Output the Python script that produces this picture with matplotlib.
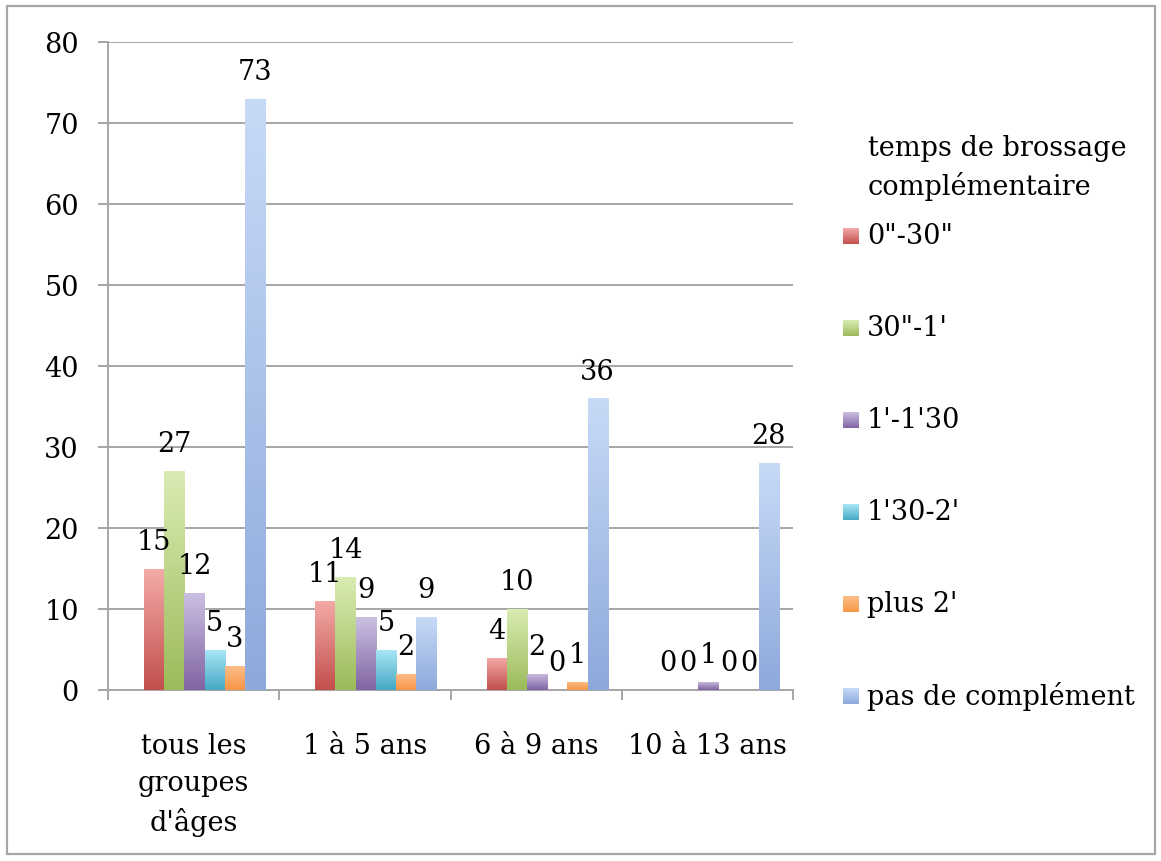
import numpy as np
import matplotlib
matplotlib.use("Agg")
import matplotlib.pyplot as plt
from matplotlib.colors import LinearSegmentedColormap, to_rgb
from matplotlib.patches import Rectangle

categories = ["tous les\ngroupes\nd'âges", "1 à 5 ans", "6 à 9 ans", "10 à 13 ans"]
series_names = ['0"-30"', '30"-1\'', "1'-1'30", "1'30-2'", "plus 2'", "pas de complément"]
v_0_30 = [15, 11, 4, 0]
v_30_1 = [27, 14, 10, 0]
v_1_130 = [12, 9, 2, 1]
v_130_2 = [5, 5, 0, 0]
v_plus2 = [3, 2, 1, 0]
v_pas = [73, 9, 36, 28]
series_values = [v_0_30, v_30_1, v_1_130, v_130_2, v_plus2, v_pas]
legend_title = "temps de brossage\ncomplémentaire"
yticks = [0, 10, 20, 30, 40, 50, 60, 70, 80]

# (bottom colour, top colour) for the gradient fill
grad_colors = [
    ("#C24F4C", "#F4ABA9"),
    ("#9BBB59", "#D9ECB4"),
    ("#8064A2", "#CCC0E3"),
    ("#45A9C4", "#AAE7F8"),
    ("#F79646", "#FCBF8C"),
    ("#8DA9DB", "#C7DAF7"),
]

plt.rcParams['font.family'] = ['DejaVu Serif']
FS = 19.5
W, H = 1161, 862
fig = plt.figure(figsize=(W / 100, H / 100), dpi=100)

# outer border
fig.patches.append(Rectangle((7 / W, 7 / H), (1155 - 7) / W, (855 - 7) / H,
                             transform=fig.transFigure, fill=False,
                             edgecolor="#A6A6A6", linewidth=1.6, zorder=0))

ax = fig.add_axes([108 / W, (H - 691) / H, (793 - 108) / W, (691 - 43) / H])
ax.set_facecolor("none")

n_cat = len(categories)
cat_px = (793 - 108) / n_cat
bw = 20.2 / cat_px
x = np.arange(n_cat)
grad = np.linspace(0, 1, 256).reshape(-1, 1)

for i, (vals, (cb, ct)) in enumerate(zip(series_values, grad_colors)):
    off = (-39.5 + 20.2 * i) / cat_px
    cmid = tuple((np.array(to_rgb(cb)) + np.array(to_rgb(ct))) / 2)
    bars = ax.bar(x + off, vals, width=bw, color=cmid, linewidth=0, zorder=2)
    cmap = LinearSegmentedColormap.from_list(f"g{i}", [cb, ct])
    for b, v in zip(bars, vals):
        if v <= 0:
            continue
        x0 = b.get_x()
        im = ax.imshow(grad, extent=(x0, x0 + bw, 0, v),
                       origin="lower", cmap=cmap, aspect="auto", zorder=3,
                       interpolation="bilinear")
        im.set_clip_path(b)
    ax.bar_label(bars, labels=[str(v) for v in vals], padding=10, fontsize=FS, zorder=4)

ax.set_xlim(-0.5, n_cat - 0.5)
ax.set_ylim(0, 80)
ax.set_yticks(yticks)
ax.set_yticklabels([str(t) for t in yticks], fontsize=FS)
ax.grid(axis="y", color="#A6A6A6", linewidth=1.4, zorder=0)
ax.set_axisbelow(True)
ax.tick_params(axis="y", length=7, width=1.4, color="#A6A6A6", pad=14, direction="out")

ax.set_xticks(x)
ax.set_xticklabels(categories, fontsize=FS, linespacing=1.48, va="top")
ax.set_xticks(np.arange(n_cat + 1) - 0.5, minor=True)
ax.tick_params(axis="x", which="major", length=0, pad=30)
ax.tick_params(axis="x", which="minor", length=7.5, width=1.4, color="#A6A6A6", direction="out")

for s in ["top", "right"]:
    ax.spines[s].set_visible(False)
for s in ["left", "bottom"]:
    ax.spines[s].set_color("#A6A6A6")
    ax.spines[s].set_linewidth(1.4)

# legend
fig.text(868 / W, 1 - 168 / H, legend_title, fontsize=FS, ha="left", va="center",
         linespacing=1.45)
y0, dy = 237, 92
for i, (name, (cb, ct)) in enumerate(zip(series_names, grad_colors)):
    yc = y0 + dy * i
    cmap = LinearSegmentedColormap.from_list(f"l{i}", [cb, ct])
    lax = fig.add_axes([843 / W, 1 - (yc + 8) / H, 16 / W, 16 / H])
    lax.imshow(grad, origin="lower", cmap=cmap, aspect="auto", interpolation="bilinear")
    lax.set_axis_off()
    fig.text(867 / W, 1 - yc / H, name, fontsize=FS, ha="left", va="center")

fig.savefig("out.png", dpi=100)
